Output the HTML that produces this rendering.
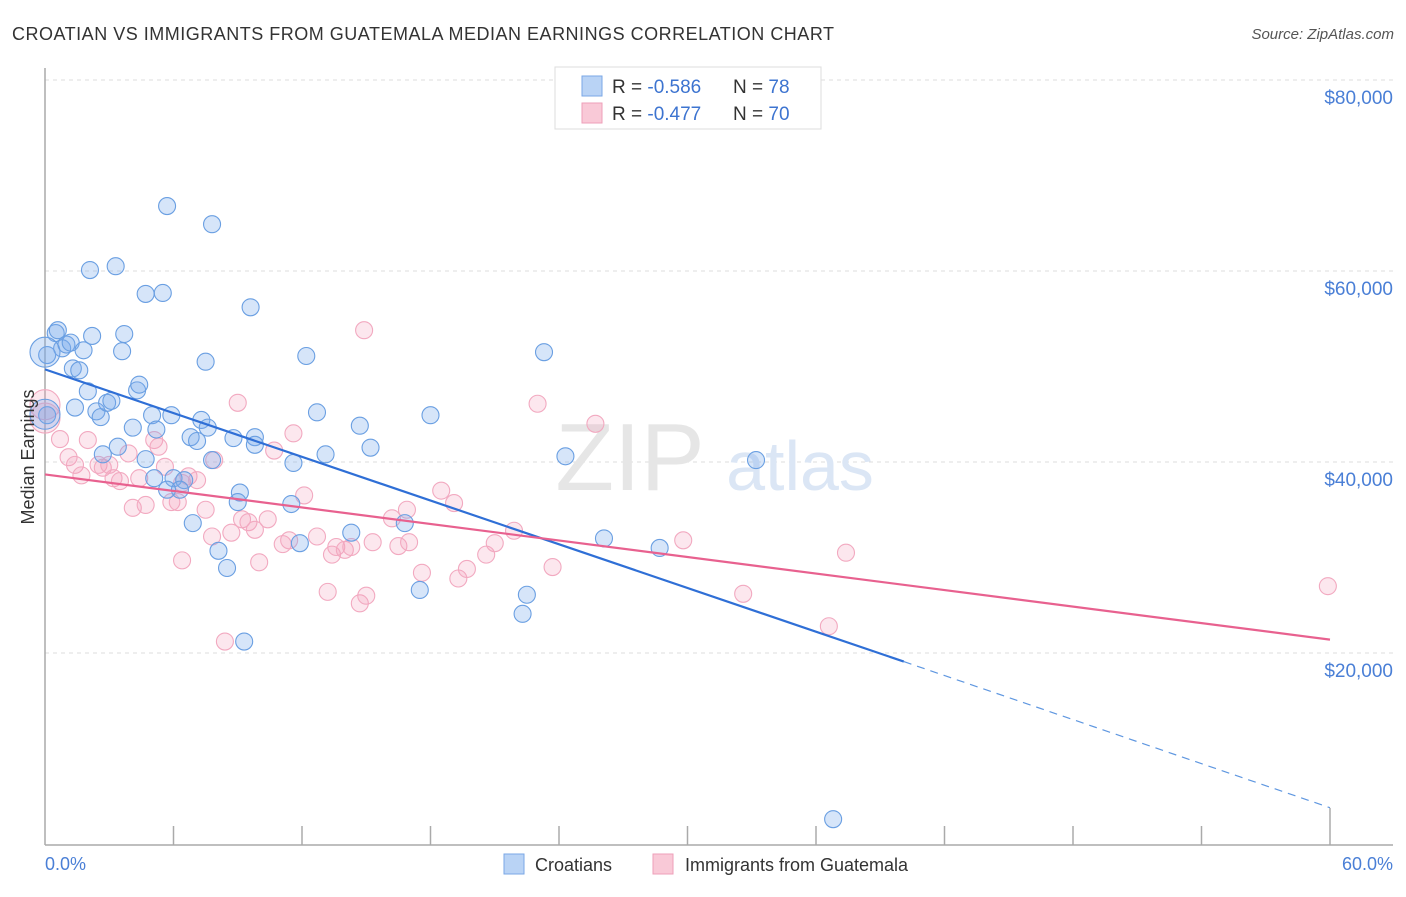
<!DOCTYPE html>
<html><head><meta charset="utf-8"><style>
body{margin:0;background:#fff;font-family:"Liberation Sans",sans-serif;}
svg text{font-family:"Liberation Sans",sans-serif;}
</style></head><body>
<svg width="1406" height="892">
<text x="12" y="40" font-size="18" fill="#333" textLength="822" lengthAdjust="spacing">CROATIAN VS IMMIGRANTS FROM GUATEMALA MEDIAN EARNINGS CORRELATION CHART</text>
<text x="1394" y="39" font-size="15" fill="#555" text-anchor="end" font-style="italic">Source: ZipAtlas.com</text>
<g id="grid"></g>
<text x="630" y="490" font-size="96" fill="#e6e6e6" font-family="Liberation Serif" text-anchor="middle">ZIP</text>
<text x="800" y="490" font-size="70" fill="#dbe6f5" text-anchor="middle">atlas</text>
<g id="axes"></g>
<g id="pts"></g>
<g id="trends"></g>
<text x="34" y="457" font-size="18" fill="#333" text-anchor="middle" transform="rotate(-90 34 457)">Median Earnings</text>
<text x="45" y="870" font-size="18" fill="#4a7fd6">0.0%</text>
<text x="1393" y="870" font-size="18" fill="#4a7fd6" text-anchor="end">60.0%</text>
<g>
<rect x="555" y="67" width="266" height="62" fill="#fff" stroke="#ddd"/>
<rect x="582" y="76" width="20" height="20" fill="#b9d3f5" stroke="#7aa7e6"/>
<rect x="582" y="103" width="20" height="20" fill="#f9c9d7" stroke="#ee9fb8"/>
<text x="612" y="93" font-size="19" fill="#333">R = <tspan fill="#3d74d0">-0.586</tspan></text>
<text x="733" y="93" font-size="19" fill="#333">N = <tspan fill="#3d74d0">78</tspan></text>
<text x="612" y="120" font-size="19" fill="#333">R = <tspan fill="#3d74d0">-0.477</tspan></text>
<text x="733" y="120" font-size="19" fill="#333">N = <tspan fill="#3d74d0">70</tspan></text>
</g>
<g>
<rect x="504" y="854" width="20" height="20" fill="#b9d3f5" stroke="#7aa7e6"/>
<text x="535" y="871" font-size="18" fill="#333">Croatians</text>
<rect x="653" y="854" width="20" height="20" fill="#f9c9d7" stroke="#ee9fb8"/>
<text x="685" y="871" font-size="18" fill="#333">Immigrants from Guatemala</text>
</g>
</svg>
<script>
const yTicks=[20000,40000,60000,80000];
const yTickLabels=["$20,000","$40,000","$60,000","$80,000"];
const blueX=[0.5,0.6,0.8,1.0,1.2,1.8,2.2,1.3,1.6,2.1,3.3,4.7,5.5,5.7,7.8,9.6,3.7,3.6,7.5,12.2,23.3,0.1,0.1,1.4,2.0,2.4,2.6,2.9,3.1,4.3,4.4,4.1,5.0,5.2,5.9,7.3,7.6,6.8,7.1,8.8,9.8,9.8,7.8,3.4,2.7,4.7,5.1,6.0,6.5,6.3,5.7,9.1,9.0,11.6,13.1,12.7,14.7,15.2,18.0,24.3,33.2,11.5,6.9,8.1,8.5,11.9,14.3,16.8,26.1,28.7,17.5,22.5,22.3,9.3,36.8,0.0,0.0];
const blueY=[53.5,53.8,51.9,52.3,52.5,51.7,53.2,49.8,49.6,60.1,60.5,57.6,57.7,66.8,64.9,56.2,53.4,51.6,50.5,51.1,51.5,51.2,44.9,45.7,47.4,45.3,44.7,46.2,46.4,47.5,48.1,43.6,44.9,43.4,44.9,44.4,43.6,42.6,42.2,42.5,42.6,41.8,40.2,41.6,40.8,40.3,38.3,38.3,38.1,37.1,37.1,36.8,35.8,39.9,40.8,45.2,43.8,41.5,44.9,40.6,40.2,35.6,33.6,30.7,28.9,31.5,32.6,33.6,32.0,31.0,26.6,26.1,24.1,21.2,2.6,45.0,51.5];
const blueBig=[0,0,0,0,0,0,0,0,0,0,0,0,0,0,0,0,0,0,0,0,0,0,0,0,0,0,0,0,0,0,0,0,0,0,0,0,0,0,0,0,0,0,0,0,0,0,0,0,0,0,0,0,0,0,0,0,0,0,0,0,0,0,0,0,0,0,0,0,0,0,0,0,0,0,0,1,1];
const pinkX=[0.0,0.0,0.7,1.1,1.4,1.7,2.0,2.5,2.7,3.0,3.2,3.5,3.9,4.1,4.7,4.4,5.1,5.3,5.6,5.9,6.2,6.4,6.7,7.1,7.5,7.9,7.8,6.4,8.4,8.7,9.0,9.2,9.5,9.8,10.0,10.4,10.7,11.1,11.4,11.6,12.1,12.7,13.2,13.4,13.6,14.0,14.3,14.7,15.0,14.9,15.3,16.2,16.5,16.9,17.0,17.6,18.5,19.1,19.3,19.7,20.6,21.0,21.9,23.0,23.7,25.7,29.8,32.6,36.6,37.4,59.9];
const pinkY=[46.0,44.6,42.4,40.5,39.7,38.6,42.3,39.7,39.4,39.7,38.3,38.0,40.9,35.2,35.5,38.3,42.3,41.6,39.5,35.8,35.8,37.8,38.5,38.1,35.0,40.2,32.2,29.7,21.2,32.6,46.2,34.0,33.7,32.9,29.5,34.0,41.2,31.4,31.8,43.0,36.5,32.2,26.4,30.3,31.1,30.8,31.1,25.2,26.0,53.8,31.6,34.1,31.2,35.0,31.6,28.4,37.0,35.7,27.8,28.8,30.3,31.5,32.8,46.1,29.0,44.0,31.8,26.2,22.8,30.5,27.0];
const pinkBig=[1,1];
const blueTrend=[[0,49.7],[40.1,19.1],[60,3.8]];
const pinkTrend=[[0,38.7],[60,21.4]];

const X0=45,X1=1330,YTOP=80;
const sx=p=>X0+p/60*(X1-X0);
const sy=v=>YTOP+(80000-v)*191/20000;
const sk=k=>sy(k*1000);
const NS="http://www.w3.org/2000/svg";
function mk(tag,attrs,parent){const e=document.createElementNS(NS,tag);for(const k in attrs)e.setAttribute(k,attrs[k]);parent.appendChild(e);return e;}
const grid=document.getElementById('grid'),axes=document.getElementById('axes'),pts=document.getElementById('pts'),tr=document.getElementById('trends');
yTicks.forEach((t,i)=>{
 const l=mk('line',{x1:X0,x2:1393,y1:sy(t),y2:sy(t),stroke:'#ddd','stroke-dasharray':'4,4'},grid);
 
 
 const tx=mk('text',{x:1393,y:sy(t)+24,'font-size':19,fill:'#4a7fd6','text-anchor':'end'},grid);
 tx.textContent=yTickLabels[i];
 
 
});
const ax=mk('line',{x1:X0,x2:X0,y1:68,y2:845,stroke:'#aaa','stroke-width':1.5},axes);


const bx=mk('line',{x1:X0,x2:1393,y1:845,y2:845,stroke:'#aaa','stroke-width':1.5},axes);


for(let i=1;i<=10;i++){
 const t=mk('line',{x1:sx(i*6),x2:sx(i*6),y1:i==10?808:826,y2:845,stroke:'#aaa','stroke-width':1.5},axes);
 
 
}
function drawPts(xs,ys,big,fill,stroke,name){
 xs.forEach((x,i)=>{
  const c=mk('circle',{cx:sx(x),cy:sk(ys[i]),r:big[i]?15:8.5,fill:fill,stroke:stroke,'stroke-width':1.1},pts);
  
  
 });
}
drawPts(pinkX,pinkY,pinkBig,'rgba(244,160,188,0.25)','#f2a9c0','guatemala-point');
drawPts(blueX,blueY,blueBig,'rgba(120,170,235,0.3)','#6a9fe2','croatian-point');
const b1=mk('line',{x1:sx(blueTrend[0][0]),y1:sk(blueTrend[0][1]),x2:sx(blueTrend[1][0]),y2:sk(blueTrend[1][1]),stroke:'#2f6fd6','stroke-width':2.2},tr);


const b2=mk('line',{x1:sx(blueTrend[1][0]),y1:sk(blueTrend[1][1]),x2:sx(blueTrend[2][0]),y2:sk(blueTrend[2][1]),stroke:'#5f97e0','stroke-width':1.2,'stroke-dasharray':'8,6'},tr);


const p1=mk('line',{x1:sx(pinkTrend[0][0]),y1:sk(pinkTrend[0][1]),x2:sx(pinkTrend[1][0]),y2:sk(pinkTrend[1][1]),stroke:'#e8618f','stroke-width':2.2},tr);


</script>
</body></html>
